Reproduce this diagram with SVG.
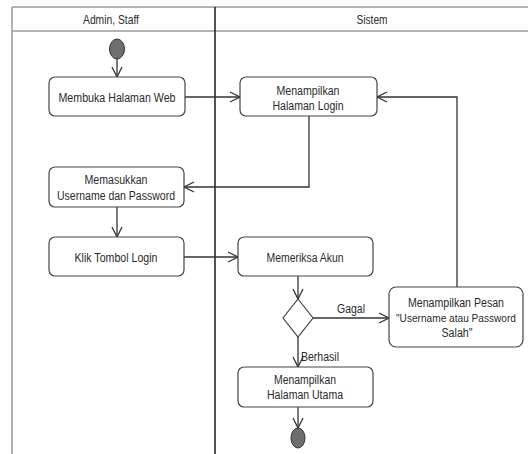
<svg xmlns="http://www.w3.org/2000/svg" width="528" height="454" viewBox="0 0 528 454">
  <style>
    .frame { stroke: #9a9a9a; stroke-width: 1.5; fill: none; }
    .divider { stroke: #1a1a1a; stroke-width: 1.5; fill: none; }
    .act { fill: #ffffff; stroke: #444444; stroke-width: 1.2; }
    .dec { fill: #ffffff; stroke: #444444; stroke-width: 1.2; }
    .node { fill: #6e6e6e; stroke: #333333; stroke-width: 1; }
    .edge { stroke: #333333; stroke-width: 1.3; fill: none; marker-end: url(#open); }
    text { font-family: "Liberation Sans", Arial, sans-serif; font-size: 12px; fill: #2a2a2a; text-anchor: middle; }
    text.small { font-size: 10px; }
    .lbl { text-anchor: start; }
  </style>
  <defs>
    <marker id="open" markerUnits="userSpaceOnUse" markerWidth="12" markerHeight="12" viewBox="0 0 12 12" refX="11" refY="6" orient="auto">
      <path d="M1,1 L11,6 L1,11" fill="none" stroke="#333333" stroke-width="1.3"/>
    </marker>
  </defs>

  <!-- swimlane frame -->
  <g id="lanes">
    <line class="frame" x1="12" y1="7" x2="528" y2="7"/>
    <line class="frame" x1="12" y1="31" x2="528" y2="31"/>
    <line class="frame" x1="12" y1="7" x2="12" y2="454"/>
    <line class="divider" x1="215" y1="7" x2="215" y2="454"/>
    <text x="111" y="24" textLength="56" lengthAdjust="spacingAndGlyphs">Admin, Staff</text>
    <text x="372" y="24" textLength="31" lengthAdjust="spacingAndGlyphs">Sistem</text>
  </g>

  <!-- connectors -->
  <g id="connectors">
    <path class="edge" d="M117,59 L117,77"/>
    <path class="edge" d="M185,97 L240,97"/>
    <path class="edge" d="M309,116 L309,187 L184,187"/>
    <path class="edge" d="M117,207 L117,237"/>
    <path class="edge" d="M184,257 L238,257"/>
    <path class="edge" d="M298,276 L298,299"/>
    <path class="edge" d="M313,318 L389,318"/>
    <path class="edge" d="M298,337 L298,367"/>
    <path class="edge" d="M457,287 L457,97 L377,97"/>
    <path class="edge" d="M298,407 L298,428"/>
    <text class="lbl" x="337" y="313" textLength="28" lengthAdjust="spacingAndGlyphs">Gagal</text>
    <text class="lbl" x="301" y="361" textLength="38" lengthAdjust="spacingAndGlyphs">Berhasil</text>
  </g>

  <g id="start">
    <ellipse class="node" cx="117" cy="49" rx="7.5" ry="10"/>
  </g>

  <g id="membuka-halaman-web">
    <rect class="act" x="49" y="77" width="136" height="39" rx="6"/>
    <text x="117" y="102" textLength="117" lengthAdjust="spacingAndGlyphs">Membuka Halaman Web</text>
  </g>

  <g id="menampilkan-halaman-login">
    <rect class="act" x="240" y="77" width="137" height="39" rx="6"/>
    <text x="308" y="95" textLength="63" lengthAdjust="spacingAndGlyphs">Menampilkan</text>
    <text x="308" y="110" textLength="71" lengthAdjust="spacingAndGlyphs">Halaman Login</text>
  </g>

  <g id="memasukkan-username">
    <rect class="act" x="49" y="167" width="135" height="40" rx="6"/>
    <text x="116" y="184" textLength="63" lengthAdjust="spacingAndGlyphs">Memasukkan</text>
    <text x="116" y="200" textLength="118" lengthAdjust="spacingAndGlyphs">Username dan Password</text>
  </g>

  <g id="klik-tombol-login">
    <rect class="act" x="49" y="237" width="135" height="39" rx="6"/>
    <text x="116" y="262" textLength="83" lengthAdjust="spacingAndGlyphs">Klik Tombol Login</text>
  </g>

  <g id="memeriksa-akun">
    <rect class="act" x="238" y="237" width="135" height="39" rx="6"/>
    <text x="305" y="262" textLength="77" lengthAdjust="spacingAndGlyphs">Memeriksa Akun</text>
  </g>

  <g id="cek-akun">
    <polygon class="dec" points="298,299 313,318 298,337 283,318"/>
  </g>

  <g id="menampilkan-pesan">
    <rect class="act" x="389" y="287" width="134" height="60" rx="7"/>
    <text x="456" y="307" textLength="96" lengthAdjust="spacingAndGlyphs">Menampilkan Pesan</text>
    <text class="small" x="456" y="322" textLength="120" lengthAdjust="spacingAndGlyphs">"Username atau Password</text>
    <text x="457" y="337" textLength="31" lengthAdjust="spacingAndGlyphs">Salah"</text>
  </g>

  <g id="menampilkan-halaman-utama">
    <rect class="act" x="238" y="367" width="135" height="40" rx="6"/>
    <text x="305" y="384" textLength="62" lengthAdjust="spacingAndGlyphs">Menampilkan</text>
    <text x="305" y="399" textLength="76" lengthAdjust="spacingAndGlyphs">Halaman Utama</text>
  </g>

  <g id="end">
    <ellipse class="node" cx="298" cy="438" rx="7" ry="10"/>
  </g>
</svg>
